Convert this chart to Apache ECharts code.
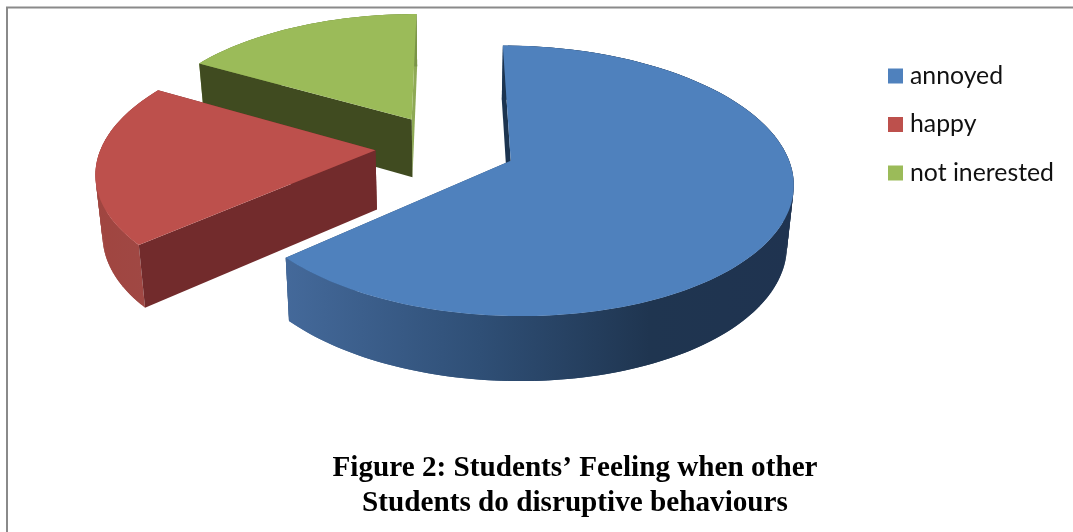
<!DOCTYPE html>
<html><head><meta charset="utf-8">
<style>html,body{margin:0;padding:0;background:#fff}#c{width:1073px;height:532px}</style>
<script src="https://cdn.jsdelivr.net/npm/echarts@6/dist/echarts.min.js"></script>
</head><body><div id="c"></div>
<script>
const categories = ['annoyed', 'happy', 'not inerested'];
const shares = [63.5, 19.8, 16.7];
const topColors = ['#4f81bd', '#bd504c', '#9bbb59'];
const startWall = ['#1c3450', '#722b2c', '#404b20'];
const endWall = ['#2b4a70', '#722b2c', '#8ea955'];
const outerStops = [
  [[286, '#44699a'], [480, '#2f4f76'], [650, '#1f3550'], [800, '#1f3350']],
  [[95, '#a04540'], [150, '#a04844']],
  [[200, '#7a9447'], [420, '#7a9447']]
];
const titleLines = 'Figure 2: Students\u2019 Feeling when other\nStudents do disruptive behaviours';

// Projection of the tilted pie onto the page
const VX = 450, CY = 160, SX = 281, SY = 133.4, K = 0.15, XB = 58 / 281;
const EXPLODE = 0.254, RIM = 0.99, C = [-0.222, -0.099], DEPTH_SCALE = 0.98;
const total = shares.reduce((a, b) => a + b, 0);

function project(X, Y, bottom) {
  const w = 1 - K * Y;
  let x = VX + SX * (X + XB) / w;
  let y = CY + SY * Y / w;
  if (bottom) { x = VX + (x - VX) * DEPTH_SCALE; y += 59.5 + 5.5 * Y; }
  return [x, y];
}

function renderSlice(idx) {
  return function (params, api) {
    const v = api.value(0);
    let before = 0;
    for (let i = 0; i < idx; i++) before += shares[i];
    const a0 = before / total * Math.PI * 2;
    const a1 = a0 + v / total * Math.PI * 2;
    const mid = (a0 + a1) / 2;
    const ox = C[0] + EXPLODE * Math.sin(mid), oy = C[1] - EXPLODE * Math.cos(mid);
    const rimPt = (a) => [ox + RIM * Math.sin(a), oy - RIM * Math.cos(a)];
    const arc = [];
    const n = Math.max(12, Math.round((a1 - a0) * 48));
    for (let i = 0; i <= n; i++) arc.push(rimPt(a0 + (a1 - a0) * i / n));
    const topArc = arc.map(p => project(p[0], p[1], false));
    const botArc = arc.map(p => project(p[0], p[1], true));
    const apexT = project(ox, oy, false), apexB = project(ox, oy, true);
    const stops = outerStops[idx];
    const x0 = stops[0][0], x1 = stops[stops.length - 1][0];
    const grad = new echarts.graphic.LinearGradient(x0, 0, x1, 0,
      stops.map(s => ({ offset: (s[0] - x0) / (x1 - x0), color: s[1] })), true);
    const poly = (pts, fill) => ({ type: 'polygon', shape: { points: pts }, style: { fill: fill }, silent: true });
    const children = [poly([topArc[n], apexT, apexB, botArc[n]], endWall[idx])];
    for (let i = 0; i < n; i++) {
      const j = Math.min(i + 2, n);
      children.push(poly([topArc[i], topArc[j], botArc[j], botArc[i]], grad));
    }
    children.push(poly([topArc[0], apexT, apexB, botArc[0]], startWall[idx]));
    children.push(poly(topArc.concat([apexT]), topColors[idx]));
    return { type: 'group', children: children };
  };
}

const chart = echarts.init(document.getElementById('c'), null, { renderer: 'canvas' });
const order = [2, 1, 0];
chart.setOption({
  animation: false,
  backgroundColor: '#fff',
  color: topColors,
  title: {
    text: titleLines, left: 570, top: 446, textAlign: 'center',
    textStyle: { fontFamily: 'Liberation Serif', fontWeight: 'bold', fontSize: 29.2, lineHeight: 35, color: '#000' }
  },
  legend: {
    orient: 'vertical', left: 883, top: 58.5, itemWidth: 15, itemHeight: 15, itemGap: 23.5,
    icon: 'rect', data: categories, selectedMode: false,
    textStyle: { fontFamily: 'Lato', fontSize: 24.8, color: '#111', lineHeight: 15, padding: [0, 0, 0, 2] }
  },
  graphic: [
    { type: 'polyline', shape: { points: [[7, 532], [7, 7.5], [1073, 7.5]] }, style: { stroke: '#8a8a8a', lineWidth: 2, fill: null }, silent: true }
  ],
  series: order.map(i => ({
    type: 'custom', name: categories[i], coordinateSystem: 'none',
    renderItem: renderSlice(i), data: [[shares[i]]],
    itemStyle: { color: topColors[i] }, silent: true
  }))
});
</script></body></html>
